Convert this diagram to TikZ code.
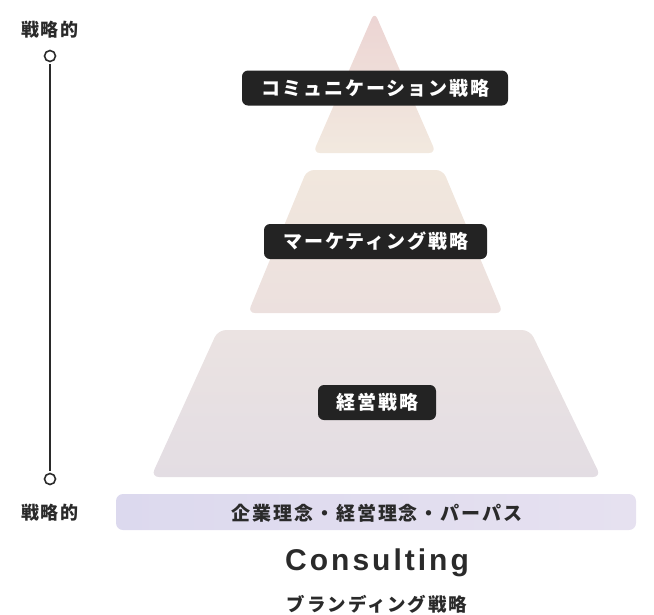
\documentclass[tikz,border=0pt]{standalone}
\usepackage{fontspec}
\setmainfont{Noto Sans CJK JP}
\newfontfamily\jpsp{Noto Sans CJK JP}[LetterSpace=10]
\newfontfamily\latsp{Liberation Sans}[LetterSpace=10]
\definecolor{ink}{HTML}{2A2A2A}
\definecolor{tagbg}{HTML}{232323}
\definecolor{aT}{HTML}{ECD4D3}
\definecolor{aB}{HTML}{F2E9DF}
\definecolor{bT}{HTML}{F1E7DD}
\definecolor{bB}{HTML}{ECE0DE}
\definecolor{cT}{HTML}{EBE3E2}
\definecolor{cB}{HTML}{E3DDE3}
\definecolor{barL}{HTML}{DCD9EE}
\definecolor{barR}{HTML}{E6E1F0}
\tikzset{
  tag/.style={fill=tagbg, rounded corners=6pt, text=white, font=\jpsp\bfseries\fontsize{19}{19}\selectfont, inner sep=0pt, minimum height=35pt, anchor=center},
  axislabel/.style={text=ink, font=\jpsp\bfseries\fontsize{18}{18}\selectfont, inner sep=0pt},
  dot/.style={circle, draw=ink, line width=1.6pt, fill=white, minimum size=11pt, inner sep=0pt},
  axisline/.style={draw=ink, line width=2pt},
}
\begin{document}
\begin{tikzpicture}[x=1pt,y=-1pt]
\useasboundingbox (0,0) rectangle (654,614);
% pyramid pieces
\shade[top color=aT, bottom color=aB, rounded corners=7pt]
  (313,153) -- (374.5,12) -- (436,153) -- cycle;
\shade[top color=bT, bottom color=bB, rounded corners=7pt]
  (248,313) -- (307,170) -- (443,170) -- (503,313) -- cycle;
\shade[top color=cT, bottom color=cB, rounded corners=8pt]
  (151,477) -- (218,330) -- (530,330) -- (601,477) -- cycle;
% base bar
\shade[left color=barL, right color=barR, rounded corners=7pt]
  (116,494) rectangle (636,530);
% tags
\node[tag, minimum width=266pt] (t1) at (375,88) {\hspace*{1pt}コミュニケーション戦略};
\node[tag, minimum width=223pt] (t2) at (375.5,241.5) {\hspace*{1pt}マーケティング戦略};
\node[tag, minimum width=118pt] (t3) at (377,402.5) {\hspace*{1pt}経営戦略};
\node[text=ink, font=\jpsp\bfseries\fontsize{19}{19}\selectfont, inner sep=0pt] (base) at (377,513) {企業理念・経営理念・パーパス};
% titles
\node[text=ink, font=\latsp\bfseries\fontsize{30}{30}\selectfont, inner sep=0pt] (cons) at (377,563) {Consulting};
\node[text=ink, font=\jpsp\bfseries\fontsize{18.5}{18.5}\selectfont, inner sep=0pt] (brand) at (377,604) {ブランディング戦略};
% axis
\node[axislabel] (topl) at (50,30) {戦略的};
\node[dot] (c1) at (50,56) {};
\node[dot] (c2) at (50,479) {};
\node[axislabel] (botl) at (50,513) {戦略的};
\draw[axisline, shorten <=2pt, shorten >=2pt] (c1) -- (c2);
\end{tikzpicture}
\end{document}
